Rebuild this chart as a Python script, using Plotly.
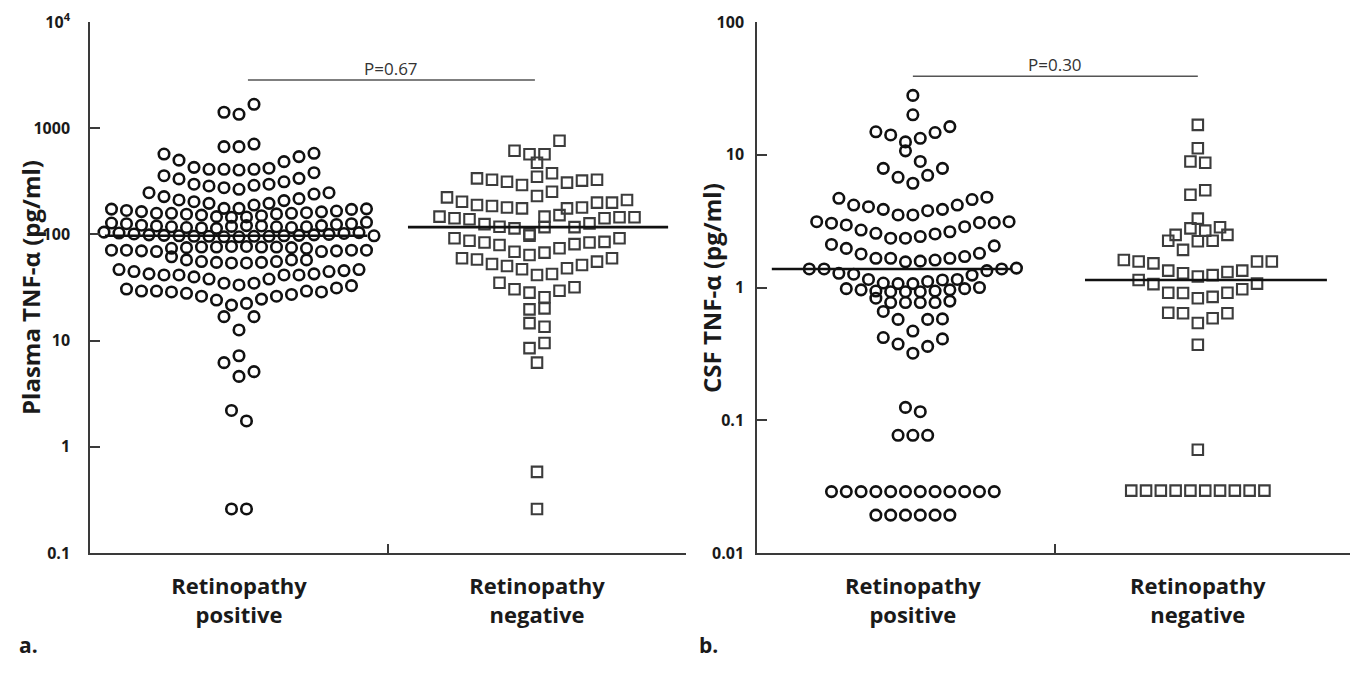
import math
import plotly.graph_objects as go

# ---------------- data ----------------
categories = ["Retinopathy<br>positive", "Retinopathy<br>negative"]

# Plasma TNF-alpha (pg/ml), listed row by row (top to bottom), left to right
plasma_pos_rows = [
    [1413, 1352, 1679],
    [670, 670, 709],
    [571, 500, 428, 410, 410, 404, 410, 420, 484, 540, 580],
    [357, 333, 297, 286, 275, 266, 290, 297, 313, 337, 381],
    [247, 227, 211, 203, 196, 176, 176, 189, 196, 208, 217, 240, 247],
    [173, 168, 164, 158, 158, 155, 152, 147, 145, 146, 150, 156, 158, 160, 163, 166, 172, 174],
    [128, 126, 122, 120, 118, 116, 115, 114, 119, 121, 120, 118, 116, 118, 121, 124, 126, 130],
    [105, 103, 101, 99, 98, 97, 96, 96, 95, 95, 96, 96, 97, 98, 99, 100, 102, 104, 97],
    [71, 71, 70, 69, 74, 75, 76, 76, 77, 77, 76, 76, 75, 74, 69, 70, 71, 71],
    [61.5, 57.5, 55.5, 54.5, 53.8, 53.8, 54.5, 55.5, 57.5, 57.5],
    [46.7, 44.7, 42.5, 41.5, 41.5, 39.8, 38, 34.7, 33.4, 34.7, 38, 41.5, 41.5, 42.5, 44.7, 45.6, 46.7],
    [30.6, 29.3, 29.3, 28.7, 27.9, 26.2, 24.1, 21.6, 22.4, 24.6, 26.2, 27.2, 29.3, 28.7, 31.3, 32.9],
    [16.8, 12.6, 16.8],
    [6.2, 7.2, 5.1],
    [4.6],
    [2.2, 1.75],
    [0.26, 0.26],
]
plasma_neg_rows = [
    [614, 568, 568, 762],
    [473],
    [337, 327, 313, 292, 349, 376, 307, 321, 327],
    [223, 203, 189, 185, 179, 176, 230, 252, 176, 179, 199, 199, 211],
    [147, 142, 139, 125, 118, 114, 101, 147, 152, 117, 127, 142, 145, 145],
    [97, 117],
    [92, 87, 84, 79.4, 68.7, 64, 67.3, 74, 81, 84, 85, 92],
    [59.6, 58, 52.6, 50.4, 46.9, 41.5, 42.4, 48, 51.5, 55.4, 59.6],
    [35, 30.4, 28.3, 25.6, 29.5, 31.8],
    [19.7, 20.1],
    [14.6, 13.5],
    [8.5, 9.5],
    [6.2],
    [0.58],
    [0.26],
]

# CSF TNF-alpha (pg/ml)
csf_pos_rows = [
    [28],
    [20],
    [14.9, 14.1, 12.5, 13.3, 14.7, 16.3],
    [10.7, 8.9],
    [7.9, 6.76, 6.1, 7.0, 7.9],
    [4.7, 4.18, 4.06, 3.88, 3.52, 3.52, 3.79, 3.88, 4.18, 4.6, 4.79],
    [3.13, 3.05, 2.96, 2.71, 2.56, 2.35, 2.35, 2.42, 2.53, 2.63, 2.87, 3.08, 3.08, 3.13],
    [2.11, 1.97, 1.79, 1.66, 1.66, 1.56, 1.58, 1.61, 1.66, 1.71, 1.81, 2.06],
    [1.38, 1.38, 1.28, 1.26, 1.15, 1.08, 1.07, 1.07, 1.11, 1.14, 1.15, 1.24, 1.34, 1.38, 1.40],
    [0.98, 0.96, 0.94, 0.93, 0.93, 0.93, 0.94, 0.96, 0.98, 1.0],
    [0.83, 0.77, 0.77, 0.77, 0.77, 0.79],
    [0.66, 0.575, 0.47, 0.575, 0.58],
    [0.42, 0.375, 0.32, 0.36, 0.41],
    [0.125, 0.116],
    [0.077, 0.077, 0.077],
    [0.029] * 12,
    [0.0193] * 6,
]
csf_neg_rows = [
    [16.8],
    [11.2],
    [8.9, 8.7],
    [5.0, 5.4],
    [3.3],
    [2.49, 2.79, 2.68, 2.84],
    [2.25, 1.92, 2.23, 2.25, 2.49],
    [1.61, 1.57, 1.52, 1.34, 1.28, 1.21, 1.24, 1.31, 1.34, 1.57, 1.57],
    [1.14, 1.06, 0.914, 0.91, 0.83, 0.85, 0.914, 0.97, 1.07],
    [0.645, 0.64, 0.54, 0.586, 0.64],
    [0.37],
    [0.06],
    [0.0295] * 10,
]

plasma_medians = [97, 117]
csf_medians = [1.38, 1.14]
p_labels = ["P=0.67", "P=0.30"]
plasma_tickvals = [0.1, 1, 10, 100, 1000, 10000]
plasma_ticktext = ["0.1", "1", "10", "100", "1000", "10<sup>4</sup>"]
csf_tickvals = [0.01, 0.1, 1, 10, 100]
csf_ticktext = ["0.01", "0.1", "1", "10", "100"]
plasma_bracket = 2840
csf_bracket = 39

# ---------------- layout helpers ----------------
W, H = 1361, 679
FONT = "Open Sans"


def dotrows(rows, center, step):
    xs, ys = [], []
    for row in rows:
        n = len(row)
        for i, v in enumerate(row):
            xs.append(center + (i - (n - 1) / 2) * step)
            ys.append(v)
    return xs, ys


fig = go.Figure()

circ = dict(symbol="circle-open", size=10.5, color="#111111", line=dict(width=2.6, color="#111111"))
sqr = dict(symbol="square-open", size=10.5, color="#3c3c3c", line=dict(width=2.1, color="#3c3c3c"))

stepA = 15 / 298
stepB = 14.8 / 285

for rows, c, mk in [(plasma_pos_rows, 0, circ), (plasma_neg_rows, 1, sqr)]:
    x, y = dotrows(rows, c, stepA)
    fig.add_trace(go.Scatter(x=x, y=y, mode="markers", marker=mk, xaxis="x", yaxis="y",
                             showlegend=False, hoverinfo="y"))
for rows, c, mk in [(csf_pos_rows, 0, circ), (csf_neg_rows, 1, sqr)]:
    x, y = dotrows(rows, c, stepB)
    fig.add_trace(go.Scatter(x=x, y=y, mode="markers", marker=mk, xaxis="x2", yaxis="y2",
                             showlegend=False, hoverinfo="y"))

# medians
med_ext_a = [(-0.45, 0.43), (-0.433, 0.44)]
med_ext_b = [(-0.495, 0.347), (-0.396, 0.453)]
for i, m in enumerate(plasma_medians):
    fig.add_trace(go.Scatter(x=[i + med_ext_a[i][0], i + med_ext_a[i][1]], y=[m, m], mode="lines",
                             line=dict(color="#111111", width=2.6), xaxis="x", yaxis="y",
                             showlegend=False, hoverinfo="skip"))
for i, m in enumerate(csf_medians):
    fig.add_trace(go.Scatter(x=[i + med_ext_b[i][0], i + med_ext_b[i][1]], y=[m, m], mode="lines",
                             line=dict(color="#111111", width=2.6), xaxis="x2", yaxis="y2",
                             showlegend=False, hoverinfo="skip"))

# significance brackets
fig.add_trace(go.Scatter(x=[0.03, 0.993], y=[plasma_bracket] * 2, mode="lines",
                         line=dict(color="#555555", width=1.4), xaxis="x", yaxis="y",
                         showlegend=False, hoverinfo="skip"))
fig.add_trace(go.Scatter(x=[0.0, 1.0], y=[csf_bracket] * 2, mode="lines",
                         line=dict(color="#555555", width=1.4), xaxis="x2", yaxis="y2",
                         showlegend=False, hoverinfo="skip"))

annotations = [
    dict(x=0.51, y=math.log10(plasma_bracket), xref="x", yref="y", text=p_labels[0], showarrow=False,
         xanchor="center", yanchor="bottom", yshift=-2,
         font=dict(family=FONT, size=17, color="#333333")),
    dict(x=0.5, y=math.log10(csf_bracket), xref="x2", yref="y2", text=p_labels[1], showarrow=False,
         xanchor="center", yanchor="bottom", yshift=-2,
         font=dict(family=FONT, size=17, color="#333333")),
    dict(x=30 / W, y=1 - 288 / H, xref="paper", yref="paper", text="Plasma TNF-α (pg/ml)",
         xanchor="center", yanchor="middle", textangle=-90, showarrow=False,
         font=dict(family=FONT, size=24, color="#1a1a1a", weight="bold")),
    dict(x=711 / W, y=1 - 288 / H, xref="paper", yref="paper", text="CSF TNF-α (pg/ml)",
         xanchor="center", yanchor="middle", textangle=-90, showarrow=False,
         font=dict(family=FONT, size=24, color="#1a1a1a", weight="bold")),
    dict(x=28 / W, y=1 - 645 / H, xref="paper", yref="paper", text="a.", showarrow=False,
         xanchor="center", yanchor="middle",
         font=dict(family=FONT, size=21, color="#1a1a1a", weight="bold")),
    dict(x=708 / W, y=1 - 645 / H, xref="paper", yref="paper", text="b.", showarrow=False,
         xanchor="center", yanchor="middle",
         font=dict(family=FONT, size=21, color="#1a1a1a", weight="bold")),
]

ydom = [(H - 553) / H, (H - 22) / H]
axis_common = dict(showgrid=False, zeroline=False, showline=True, linecolor="#3a3a3a", linewidth=1.5)

xa = dict(axis_common, range=[-0.5, 1.5], domain=[90 / W, 686 / W], tickmode="array",
          tickvals=[0, 1], ticktext=categories, ticks="", ticklabelstandoff=13,
          tickfont=dict(family=FONT, size=22, color="#1a1a1a", weight="bold"),
          minor=dict(tickmode="array", tickvals=[0.5], ticks="inside", ticklen=9, tickwidth=1.5,
                     tickcolor="#3a3a3a", showgrid=False))
xb = dict(axis_common, range=[-0.547, 1.534], domain=[757 / W, 1350 / W], tickmode="array",
          tickvals=[0, 1], ticktext=categories, ticks="", ticklabelstandoff=13,
          tickfont=dict(family=FONT, size=22, color="#1a1a1a", weight="bold"),
          minor=dict(tickmode="array", tickvals=[0.5], ticks="inside", ticklen=9, tickwidth=1.5,
                     tickcolor="#3a3a3a", showgrid=False), anchor="y2")
ya = dict(axis_common, type="log", range=[-1, 4], domain=ydom, tickmode="array",
          tickvals=plasma_tickvals, ticktext=plasma_ticktext, ticks="inside", ticklen=10,
          tickwidth=1.5, tickcolor="#3a3a3a", ticklabelstandoff=15,
          tickfont=dict(family=FONT, size=16, color="#1a1a1a", weight="bold"))
yb = dict(axis_common, type="log", range=[-2, 2], domain=ydom, tickmode="array",
          tickvals=csf_tickvals, ticktext=csf_ticktext, ticks="inside", ticklen=10,
          tickwidth=1.5, tickcolor="#3a3a3a", ticklabelstandoff=8,
          tickfont=dict(family=FONT, size=16, color="#1a1a1a", weight="bold"), anchor="x2")

fig.update_layout(
    width=W, height=H,
    margin=dict(l=0, r=0, t=0, b=0, autoexpand=False),
    paper_bgcolor="white", plot_bgcolor="white",
    xaxis=xa, yaxis=ya, xaxis2=xb, yaxis2=yb,
    annotations=annotations, showlegend=False,
    font=dict(family=FONT),
)

fig.write_html("out.html", config={"displayModeBar": False},
               post_script="document.body.style.margin='0px';document.body.style.overflow='hidden';")
